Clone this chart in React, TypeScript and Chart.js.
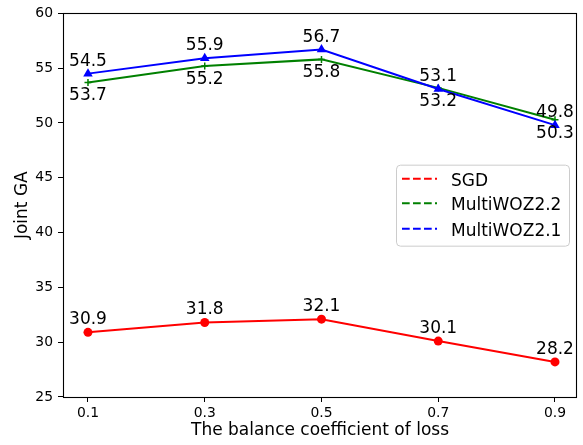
import React, { useEffect, useRef } from "react";
import { Chart, registerables } from "chart.js";

Chart.register(...registerables);

const xValues = [0.1, 0.3, 0.5, 0.7, 0.9];
const xTickLabels = ["0.1", "0.3", "0.5", "0.7", "0.9"];
const yTicks = [25, 30, 35, 40, 45, 50, 55, 60];
const seriesNames = ["SGD", "MultiWOZ2.2", "MultiWOZ2.1"];
const sgdValues = [30.9, 31.8, 32.1, 30.1, 28.2];
const multiwoz22Values = [53.7, 55.2, 55.8, 53.2, 50.3];
const multiwoz21Values = [54.5, 55.9, 56.7, 53.1, 49.8];
const xTitle = "The balance coefficient of loss";
const yTitle = "Joint GA";

const FONT = "DejaVu Sans";
const seriesColors = ["#ff0000", "#008000", "#0000ff"];
const labelSide = ["above", "below", "above"];

const overlayPlugin = {
  id: "overlay",
  afterDatasetsDraw(chart: any) {
    const ctx = chart.ctx;
    ctx.save();
    ctx.font = `17px "${FONT}"`;
    ctx.fillStyle = "#000";
    ctx.textAlign = "center";
    ctx.textBaseline = "alphabetic";
    chart.data.datasets.forEach((ds: any, i: number) => {
      const meta = chart.getDatasetMeta(i);
      meta.data.forEach((pt: any, j: number) => {
        const v = ds.data[j].y;
        const txt = v.toFixed(1);
        const y = labelSide[i] === "above" ? pt.y - 8 : pt.y + 18;
        ctx.fillText(txt, pt.x, y);
      });
    });
    ctx.restore();
  },
  afterDraw(chart: any) {
    const ctx = chart.ctx;
    const a = chart.chartArea;
    ctx.save();
    // frame
    ctx.strokeStyle = "#000";
    ctx.lineWidth = 1.1;
    ctx.strokeRect(Math.round(a.left) + 0.5, Math.round(a.top) + 0.5, Math.round(a.right - a.left) - 1, Math.round(a.bottom - a.top));
    // legend
    const w = 173;
    const h = 81;
    const bx = a.right - 8 - w;
    const by = (a.top + a.bottom) / 2 - h / 2;
    ctx.beginPath();
    if ((ctx as any).roundRect) {
      (ctx as any).roundRect(bx + 0.5, by + 0.5, w, h, 4);
    } else {
      ctx.rect(bx + 0.5, by + 0.5, w, h);
    }
    ctx.fillStyle = "rgba(255,255,255,0.8)";
    ctx.fill();
    ctx.strokeStyle = "#cccccc";
    ctx.lineWidth = 1;
    ctx.stroke();
    const rowOffsets = [14, 38.5, 64];
    ctx.font = `17px "${FONT}"`;
    ctx.textAlign = "left";
    ctx.textBaseline = "alphabetic";
    seriesNames.forEach((name, i) => {
      const ry = by + rowOffsets[i];
      ctx.beginPath();
      ctx.setLineDash([7.7, 3.3]);
      ctx.strokeStyle = seriesColors[i];
      ctx.lineWidth = 2;
      ctx.moveTo(bx + 6, ry);
      ctx.lineTo(bx + 41, ry);
      ctx.stroke();
      ctx.setLineDash([]);
      ctx.fillStyle = "#000";
      ctx.fillText(name, bx + 55, ry + 7);
    });
    ctx.restore();
  },
};

export default function App() {
  const ref = useRef<HTMLCanvasElement | null>(null);
  useEffect(() => {
    document.body.style.margin = "0";
    const canvas = ref.current;
    if (!canvas) return;
    const mk = (vals: number[]) => vals.map((v, i) => ({ x: xValues[i], y: v }));
    const chart = new Chart(canvas, {
      type: "line",
      data: {
        datasets: [
          {
            label: seriesNames[0],
            data: mk(sgdValues),
            borderColor: seriesColors[0],
            backgroundColor: seriesColors[0],
            borderWidth: 2,
            pointStyle: "circle",
            pointRadius: 4.5,
            pointBorderWidth: 0,
            pointBackgroundColor: seriesColors[0],
            tension: 0,
            fill: false,
            order: 3,
          },
          {
            label: seriesNames[1],
            data: mk(multiwoz22Values),
            borderColor: seriesColors[1],
            backgroundColor: seriesColors[1],
            borderWidth: 2,
            pointStyle: "cross",
            pointRadius: 3.5,
            pointBorderWidth: 1.5,
            pointBorderColor: seriesColors[1],
            tension: 0,
            fill: false,
            order: 2,
          },
          {
            label: seriesNames[2],
            data: mk(multiwoz21Values),
            borderColor: seriesColors[2],
            backgroundColor: seriesColors[2],
            borderWidth: 2,
            pointStyle: "triangle",
            pointRadius: 5.5,
            pointBorderWidth: 0,
            pointBackgroundColor: seriesColors[2],
            tension: 0,
            fill: false,
            order: 1,
          },
        ],
      },
      options: {
        animation: false,
        responsive: false,
        layout: { padding: { top: 13, right: 6, left: 0, bottom: 0 } },
        plugins: { legend: { display: false }, tooltip: { enabled: false } },
        scales: {
          x: {
            type: "linear",
            min: 0.0572,
            max: 0.9377,
            afterBuildTicks: (s: any) => {
              s.ticks = xValues.map((v) => ({ value: v }));
            },
            afterFit: (s: any) => {
              s.height = 48;
            },
            ticks: {
              callback: (v: any) => {
                const idx = xValues.findIndex((x) => Math.abs(x - v) < 1e-9);
                return idx >= 0 ? xTickLabels[idx] : "";
              },
              font: { family: FONT, size: 13.9 },
              color: "#000",
              padding: 3,
              maxRotation: 0,
              autoSkip: false,
            },
            grid: { drawOnChartArea: false, drawTicks: true, tickLength: 5, color: "#000", lineWidth: 1 },
            border: { display: false },
            title: {
              display: true,
              text: xTitle,
              color: "#000",
              font: { family: FONT, size: 17 },
              padding: { top: 0, bottom: 4 },
            },
          },
          y: {
            min: 25,
            max: 60,
            afterBuildTicks: (s: any) => {
              s.ticks = yTicks.map((v) => ({ value: v }));
            },
            afterFit: (s: any) => {
              s.width = 63;
            },
            ticks: {
              font: { family: FONT, size: 13.9 },
              color: "#000",
              padding: 5,
            },
            grid: { drawOnChartArea: false, drawTicks: true, tickLength: 5, color: "#000", lineWidth: 1 },
            border: { display: false },
            title: {
              display: true,
              text: yTitle,
              color: "#000",
              font: { family: FONT, size: 17 },
              padding: { top: 12, bottom: 0 },
            },
          },
        },
      } as any,
      plugins: [overlayPlugin],
    });
    return () => chart.destroy();
  }, []);
  return <canvas ref={ref} width={583} height={445} style={{ display: "block", width: 583, height: 445 }} />;
}
